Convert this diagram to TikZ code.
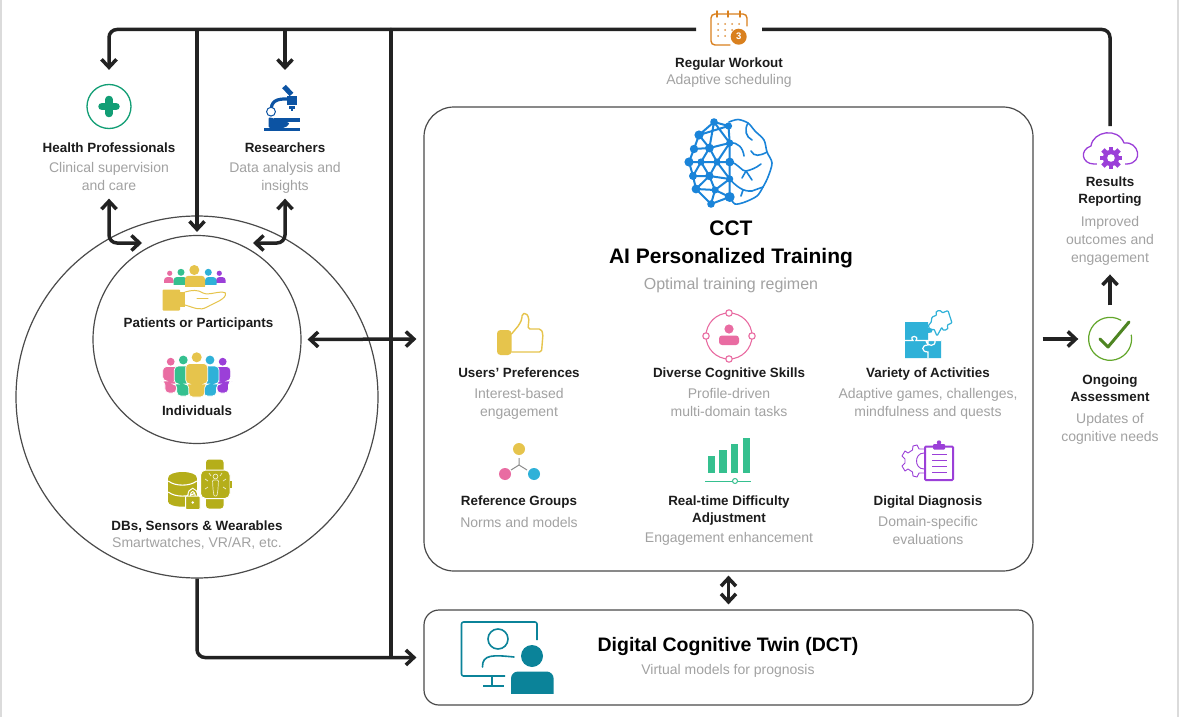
\documentclass[tikz,border=0pt]{standalone}
\usepackage{fontspec}
\setmainfont{Liberation Sans}
\usetikzlibrary{positioning,arrows.meta}

\definecolor{inkline}{HTML}{222222}
\definecolor{rimline}{HTML}{4A4A4A}
\definecolor{titlegray}{HTML}{1C1C1C}
\definecolor{notegray}{HTML}{A2A2A2}
\definecolor{crowdpink}{HTML}{E96CA2}
\definecolor{crowdgreen}{HTML}{35C08F}
\definecolor{crowdyellow}{HTML}{E6C44C}
\definecolor{crowdblue}{HTML}{2FB1D8}
\definecolor{crowdpurple}{HTML}{9B3FD8}
\definecolor{plusgreen}{HTML}{129E75}
\definecolor{scopeblue}{HTML}{0C53A3}
\definecolor{watcholive}{HTML}{B5AE1A}
\definecolor{brainblue}{HTML}{1A84D9}
\definecolor{twinteal}{HTML}{0B8399}
\definecolor{calorange}{HTML}{D9801E}
\definecolor{checkgreen}{HTML}{62A62A}

\tikzset{
  title/.style={anchor=north, inner sep=0pt, align=center, text=titlegray,
    font=\fontsize{13.4}{17}\selectfont\bfseries,
    execute at begin node=\strut, execute at end node=\strut},
  note/.style={inner sep=0pt, align=center, text=notegray,
    font=\fontsize{14}{18}\selectfont,
    execute at begin node=\strut, execute at end node=\strut},
  panel/.style={rectangle, draw=rimline, line width=1.2pt, fill=white, inner sep=0pt},
  ring/.style={circle, draw=rimline, line width=1.2pt, inner sep=0pt},
  iconbox/.style={inner sep=0pt, outer sep=0pt},
  link/.style={draw=inkline, line width=3.5pt, rounded corners=8pt},
  onetip/.style={link, -{Straight Barb[length=8pt,width=15pt]}},
  twotips/.style={link, {Straight Barb[length=8pt,width=15pt]}-{Straight Barb[length=8pt,width=15pt]}},
  thin icon/.style={line width=1.4pt, line cap=round, line join=round},
}

\begin{document}
\begin{tikzpicture}[x=1pt, y=-1pt]
\useasboundingbox (0,0) rectangle (1179,717);

% Page
\fill[white] (0,0) rectangle (1179,717);
\fill[black!14] (0,0) rectangle (1.6,717);
\fill[black!14] (1177.4,0) rectangle (1179,717);

% Circles
\node[ring, minimum size=362pt] (outer) at (197,397) {};
\node[ring, minimum size=208pt] (inner) at (197,339.5) {};

% Panels
\node[panel, rounded corners=30pt, minimum width=609pt, minimum height=464pt] (cct) at (728.5,339) {};
\node[panel, rounded corners=15pt, minimum width=609pt, minimum height=95pt] (dct) at (728.5,657.5) {};

% Regular Workout
\node[iconbox, minimum width=66pt, minimum height=36pt] (workouticon) at (729,29.5) {};
\node[title] (workouttitle) at (729,55) {Regular Workout};
\node[note, below=-0.7pt of workouttitle] (workoutnote) {Adaptive scheduling};
\draw[calorange, thin icon, rounded corners=4pt] (730,45) -- (711,45) -- (711,14) -- (747,14) -- (747,26);
\foreach \rx in {717,728,740} \draw[calorange, thin icon] (\rx,11) -- (\rx,17);
\foreach \dx/\dy in {718/24,725/24,732/24,739/24,718/30,725/30,732/30,718/36,725/36}
  \fill[calorange!85] (\dx,\dy) circle[radius=1];
\node[circle, fill=calorange, text=white, inner sep=0pt, minimum size=16pt,
      font=\fontsize{9.5}{10}\selectfont\bfseries] (workoutbadge) at (738.7,36.7) {3};

% Health Professionals
\node[circle, draw=plusgreen, line width=1.3pt, inner sep=0pt, minimum size=44pt] (hpicon) at (109,106.5) {};
\draw[plusgreen, line width=7.5pt, line cap=round] (102,106.5) -- (116,106.5) (109,99.5) -- (109,113.5);
\node[title] (hptitle) at (109,140) {Health Professionals};
\node[note, below=4.3pt of hptitle] (hpnote) {Clinical supervision\\and care};

% Researchers
\node[iconbox, minimum width=38pt, minimum height=48pt] (scopeicon) at (285,107) {};
\fill[scopeblue] (263.5,128) rectangle (300,131);
\fill[scopeblue, rounded corners=2pt] (268.5,117) -- (290,123) -- (285,128) -- (268.5,128) -- cycle;
\fill[scopeblue] (274,118) rectangle (300,121.5);
\draw[scopeblue, line width=3.2pt] (271.5,112) .. controls (270,101) and (277,98.5) .. (288,99);
\fill[scopeblue] (286.7,96.5) rectangle (297.3,105);
\fill[scopeblue] (288.5,106) rectangle (295,109);
\fill[scopeblue] (290.5,109.5) rectangle (293,111);
\draw[scopeblue, line width=5pt] (284,86.5) -- (291.5,94.5);
\draw[scopeblue, fill=white, line width=1pt] (271,111.7) circle[radius=4.4];
\node[title] (scopetitle) at (285,140) {Researchers};
\node[note, below=4.3pt of scopetitle] (scopenote) {Data analysis and\\insights};

% Patients or Participants
\foreach \hx/\hy/\hr/\bl/\br/\bt/\bb/\hue in {
  169.7/273.3/2.6/164/173.5/277/283/crowdpink,
  219.3/273.3/2.6/216/225.7/277/283/crowdpurple,
  181/272.3/3.5/173.5/187/277/285/crowdgreen,
  208.3/272.3/3.5/205/216.5/277/285/crowdblue,
  194.3/270/5/185/205/275.8/286.7/crowdyellow}{
  \fill[\hue] (\hx,\hy) circle[radius=\hr];
  \fill[\hue, rounded corners=3.4pt] (\bl,\bb+3) -- (\bl,\bt) -- (\br,\bt) -- (\br,\bb+3) -- cycle;
  \fill[white] (\bl-1,\bb) rectangle (\br+1,\bb+3.5);
}
\fill[crowdyellow, rounded corners=1pt] (162.5,289.5) rectangle (180,310.5);
\fill[crowdyellow] (180,292) rectangle (185,307);
\draw[crowdyellow, thin icon, line width=1pt] (185,292) .. controls (192,290) and (198,289.5) .. (203,293)
  .. controls (209,296) and (220,290) .. (225.5,293) .. controls (227,299) and (214,303) .. (207,307)
  .. controls (200,311) and (195,308) .. (185,305);
\draw[crowdyellow, thin icon, line width=1pt] (197,298) -- (208,298);
\node[title] (patientstitle) at (198.5,315) {Patients or Participants};

% Individuals
\foreach \hx/\hy/\hr/\bw/\bt/\bm/\bb/\hue in {
  170.7/361.7/3.9/8/366.5/381/393/crowdpink,
  222.7/361.7/3.9/8/366.5/381/393/crowdpurple,
  183.3/360/4.4/9/366/384/396/crowdgreen,
  210/360/4.4/9/366/384/396/crowdblue,
  196.7/357.3/5/11/363.5/384/397/crowdyellow}{
  \fill[\hue] (\hx,\hy) circle[radius=\hr];
  \filldraw[fill=\hue, draw=white, line width=0.7pt, rounded corners=4pt]
    (\hx-\bw,\bt) -- (\hx+\bw,\bt) -- (\hx+\bw,\bm) -- (\hx+0.72*\bw,\bm) -- (\hx+0.72*\bw,\bb)
    -- (\hx-0.72*\bw,\bb) -- (\hx-0.72*\bw,\bm) -- (\hx-\bw,\bm) -- cycle;
}
\node[title] (crowdtitle) at (197,403) {Individuals};

% DBs, Sensors and Wearables
\fill[watcholive] (182.5,477.5) ellipse[x radius=14.2, y radius=5.5];
\fill[watcholive] (168.3,477.5) rectangle (196.7,502);
\fill[watcholive] (182.5,502) ellipse[x radius=14.2, y radius=4.7];
\draw[white, line width=1.1pt] (168.3,481) .. controls (175,486.5) and (190,486.5) .. (196.7,481)
  (168.3,492) .. controls (175,497.5) and (190,497.5) .. (196.7,492);
\draw[white, line width=3.6pt] (189,497) .. controls (189,487.5) and (196.5,487.5) .. (196.5,497);
\draw[watcholive, line width=1.4pt] (189,497) .. controls (189,487.5) and (196.5,487.5) .. (196.5,497);
\filldraw[fill=watcholive, draw=white, line width=1pt, rounded corners=1pt] (185.5,496) rectangle (200,509.5);
\fill[white] (192.8,502.5) circle[radius=1.4];
\fill[watcholive, rounded corners=3pt] (206,459.5) rectangle (223.5,508.5);
\filldraw[fill=watcholive, draw=white, line width=1pt, rounded corners=5pt] (200.5,470) rectangle (230,498.5);
\fill[watcholive] (230,481) rectangle (232,488);
\draw[white!75!watcholive, line width=0.7pt, rounded corners=1pt]
  (212.5,480) -- (218.5,480) -- (218,489) -- (217,496) -- (214,496) -- (213,489) -- cycle;
\draw[white!75!watcholive, line width=0.7pt] (215.5,476.5) circle[radius=2.4];
\foreach \ax/\ay/\bx/\by in {205/479/208/481, 205/489/208/487, 226/479/223/481, 226/489/223/487, 209/473/211/476, 222/473/220/476}
  \draw[white!75!watcholive, line width=0.7pt] (\ax,\ay) -- (\bx,\by);
\node[title] (dbtitle) at (197,518) {DBs, Sensors \& Wearables};
\node[note, below=-0.7pt of dbtitle] (dbnote) {Smartwatches, VR/AR, etc.};

% Brain
\draw[brainblue, line width=2pt, line cap=round, line join=round] (714,122) -- (728.5,126) -- (699,135) -- (714,122) -- (729.7,143) -- (709.4,148) -- (699,135)
  (699,135) -- (694,149) -- (709.4,148) -- (717,162) -- (729.7,143)
  (694,149) -- (689,162) -- (701,162) -- (709.4,148)
  (701,162) -- (717,162) -- (729.7,162) -- (729.7,143)
  (689,162) -- (693,176) -- (701,162) -- (709.4,176) -- (717,162) -- (729.7,179) -- (729.7,162)
  (693,176) -- (709.4,176) -- (729.7,179) -- (715,190) -- (709.4,176) -- (696,189) -- (693,176)
  (696,189) -- (715,190) -- (729.7,197) -- (711,204) -- (696,189)
  (715,190) -- (711,204) (729.7,179) -- (729.7,197) (714,122) -- (709.4,148) (728.5,126) -- (729.7,143);
\foreach \nx/\ny/\nr in {714/122/3.8, 728.5/126/3.6, 699/135/4.6, 729.7/143/3.6, 694/149/4.2, 709.4/148/4.4, 689/162/4.6,
  701/162/3.6, 717/162/3.6, 729.7/162/4.4, 693/176/4, 709.4/176/4.2, 729.7/179/3.6, 696/189/4.4, 715/190/3.6, 729.7/197/5, 711/204/3.8}
  \fill[brainblue] (\nx,\ny) circle[radius=\nr];
\draw[brainblue, line width=1.6pt, line cap=round] plot[smooth] coordinates {(729,122) (738,119.5) (748,123) (755,131) (764,140) (767,152) (772,163) (768,177) (763,187) (757,196) (745,202) (735,204) (729.7,197)};
\draw[brainblue, line width=1.6pt, line cap=round] (748,123) .. controls (744,130) and (746,137) .. (752,140)
  (730,143) .. controls (738,142) and (743,148) .. (744,156)
  (767,152) .. controls (760,156) and (754,157) .. (751,151)
  (730,162) .. controls (738,163) and (742,172) .. (746,171) .. controls (751,170) and (756,168) .. (761,164)
  (746,171) -- (742,178) (746,171) -- (752,180)
  (729.7,179) .. controls (736,186) and (743,192) .. (752,191) (752,191) -- (763,187)
  (743,190) -- (741,196);

% CCT title
\node[title, font=\fontsize{21}{28}\selectfont\bfseries, text=black] (ccttitle) at (731,221) {CCT\\AI Personalized Training};
\node[note, font=\fontsize{16}{20}\selectfont, below=3pt of ccttitle] (cctnote) {Optimal training regimen};

% Users' Preferences
\fill[crowdyellow, rounded corners=3.5pt] (497,330) rectangle (511.5,355);
\draw[crowdyellow, thin icon, rounded corners=1.8pt] (511.5,334) -- (519,325) -- (522,319) -- (522,314) -- (526,313) -- (529,318) -- (528,329) -- (541,329) -- (543,334)
  -- (541.5,352) -- (511.5,352);
\node[title] (userstitle) at (519,365) {Users' Preferences};
\node[note, below=5.3pt of userstitle] (usersnote) {Interest-based\\engagement};

% Diverse Cognitive Skills
\draw[crowdpink, thin icon, line width=1.1pt] (729,336) circle[radius=23];
\foreach \cx/\cy in {729/313, 729/359, 706/336, 752/336}
  \filldraw[draw=crowdpink, fill=white, line width=1.1pt] (\cx,\cy) circle[radius=3.2];
\fill[crowdpink] (729,329) circle[radius=4.6];
\fill[crowdpink, rounded corners=3pt] (719,345) -- (719,335.5) -- (739,335.5) -- (739,345) -- cycle;
\node[title] (skillstitle) at (729,365) {Diverse Cognitive Skills};
\node[note, below=5.3pt of skillstitle] (skillsnote) {Profile-driven\\multi-domain tasks};

% Variety of Activities
\fill[crowdblue] (905,322) -- (928,322) -- (928,328) .. controls (934,327) and (934,334) .. (928,333) -- (928,340) -- (941,340) -- (941,358) -- (905,358) -- cycle;
\draw[white, line width=1.2pt] (905,340.5) -- (913,340.5) .. controls (908,335) and (920,335) .. (916,340.5) -- (941,340.5)
  (928,340.5) -- (928,345) .. controls (921,345) and (921,352) .. (928,352) -- (928,358)
  (926,340.5) .. controls (927,347) and (936,347) .. (935,340.5);
\draw[crowdblue, thin icon, line width=1.2pt, rounded corners=1pt] (932,317) -- (937,315) .. controls (934,311) and (941,309) .. (942,313) -- (948,310.5) -- (952,323)
  -- (947,325) .. controls (950,330) and (942,332) .. (942,327) -- (937,336) -- (934,329) .. controls (929,331) and (927,325) .. (931,323) -- cycle;
\node[title] (varietytitle) at (928,365) {Variety of Activities};
\node[note, below=5.3pt of varietytitle] (varietynote) {Adaptive games, challenges,\\mindfulness and quests};

% Reference Groups
\draw[black!45, line width=1pt] (519,458) -- (519,465) -- (511,470) (519,465) -- (527,470);
\fill[crowdyellow] (519,449) circle[radius=6];
\fill[crowdpink] (505,474) circle[radius=6];
\fill[crowdblue] (534,474) circle[radius=6];
\node[title] (refstitle) at (519,493) {Reference Groups};
\node[note, below=4.3pt of refstitle] (refsnote) {Norms and models};

% Real-time Difficulty Adjustment
\foreach \bl/\br/\bt in {708/715/456, 719/726.5/449.5, 731/738/444, 742.5/749.5/437.5}
  \fill[crowdgreen] (\bl,\bt) rectangle (\br,472.7);
\draw[crowdgreen, line width=1pt] (705,481) -- (751,481);
\filldraw[draw=crowdgreen, fill=white, line width=1pt] (735,481) circle[radius=2.5];
\node[title] (realtimetitle) at (729,496) {Real-time Difficulty\\Adjustment};
\node[note, below=1.3pt of realtimetitle] (realtimenote) {Engagement enhancement};

% Digital Diagnosis
\draw[crowdpurple, line width=0.9pt, line join=round] (924,449) -- (919,449) -- (917,445) -- (913,446) -- (912.5,450) -- (908,453) -- (905,451) -- (902,456) -- (905,459) -- (905,463) -- (902,466) -- (905,471) -- (908,469) -- (912.5,472) -- (913,476) -- (917,477) -- (919,473) -- (924,473);
\draw[crowdpurple, line width=0.9pt] (924,453) .. controls (914,453) and (914,469) .. (924,469);
\filldraw[draw=crowdpurple, fill=white, line width=2pt, rounded corners=1pt] (925,446.5) rectangle (953,480);
\fill[crowdpurple, rounded corners=1pt] (933,444) rectangle (945,449.5);
\fill[crowdpurple] (939,442.5) circle[radius=2.2];
\foreach \ly in {454,460,466,472} \draw[crowdpurple, line width=1pt] (932,\ly) -- (947,\ly);
\node[title] (diagtitle) at (928,493) {Digital Diagnosis};
\node[note, below=6pt of diagtitle] (diagnote) {Domain-specific\\evaluations};

% Digital Cognitive Twin
\draw[twinteal, line width=1.6pt, line join=round, rounded corners=2pt] (537,640) -- (537,622) -- (461.5,622) -- (461.5,676) -- (505,676);
\draw[twinteal, line width=1.6pt] (492,676) -- (492,686) (483,686) -- (504,686);
\draw[twinteal, line width=1.6pt] (498,639) circle[radius=10];
\draw[twinteal, line width=1.6pt, line cap=round] (482.5,667) .. controls (482,654) and (494,655) .. (514,657);
\fill[twinteal] (532,656) circle[radius=11];
\fill[twinteal, rounded corners=7pt] (511,702) -- (511,671.5) -- (553.6,671.5) -- (553.6,702) -- cycle;
\fill[white] (510,694) rectangle (555,703);
\node[title, font=\fontsize{19.5}{26}\selectfont\bfseries, text=black] (dcttitle) at (728,633) {Digital Cognitive Twin (DCT)};
\node[note, below=2.6pt of dcttitle] (dctnote) {Virtual models for prognosis};

% Results Reporting
\node[iconbox, minimum width=56pt, minimum height=36pt] (cloudicon) at (1110,151) {};
\draw[crowdpurple, line width=1.3pt, line join=round] (1094,164) .. controls (1082,164) and (1079,150) .. (1091,146)
  .. controls (1093,131) and (1118,127) .. (1124,143) .. controls (1139,141) and (1144,163) .. (1127,164) -- (1094,164);
\fill[white] (1097,151) rectangle (1125,166);
\foreach \ang in {0,45,...,315}
  \fill[crowdpurple, rotate around={\ang:(1111,158)}] (1108.6,146.6) rectangle (1113.4,152);
\fill[crowdpurple] (1111,158) circle[radius=8.2];
\fill[white] (1111,158) circle[radius=3.8];
\node[title] (resultstitle) at (1110,177) {Results\\Reporting};
\node[note, below=7.3pt of resultstitle] (resultsnote) {Improved\\outcomes and\\engagement};

% Ongoing Assessment
\node[circle, inner sep=0pt, minimum size=43pt] (checkicon) at (1110,339) {};
\draw[checkgreen, line width=1.2pt, line cap=round] (checkicon.60) arc[start angle=-60, end angle=-370, radius=21.5];
\draw[checkgreen!80!black, line width=3pt, line cap=round, line join=round] (1100,339) -- (1108,347) -- (1129,322);
\node[title] (ongoingtitle) at (1110,375) {Ongoing\\Assessment};
\node[note, below=6.3pt of ongoingtitle] (ongoingnote) {Updates of\\cognitive needs};

% Arrows
\coordinate (joint) at (391,656);
\coordinate (hpend) at (142,243);
\coordinate (scopeend) at (253,243);
\draw[onetip, shorten >=14pt] (workouticon.west) -| (hpicon.north);
\draw[onetip, shorten >=3pt] (inner.north |- workouticon.west) -- (inner.north);
\draw[onetip, shorten >=13pt] (scopeicon.north |- workouticon.west) -- (scopeicon.north);
\draw[link, line cap=round] (joint |- workouticon.west) -- (joint);
\draw[link, shorten >=7pt] (workouticon.east) -| (cloudicon.north);
\draw[twotips, shorten <=3pt] (hpnote.south) |- (hpend);
\draw[twotips, shorten <=3pt] (scopenote.south) |- (scopeend);
\draw[twotips, shorten <=6pt, shorten >=7pt] (inner.east) -- (cct.west);
\draw[onetip, shorten >=7pt] (outer.south) |- (dct.west);
\draw[twotips, shorten <=4pt, shorten >=5pt] (cct.south) -- (dct.north);
\draw[onetip, shorten <=9pt, shorten >=10pt] (cct.east) -- (checkicon.west);
\draw[onetip, shorten <=12pt, shorten >=6pt] (checkicon.north) -- (resultsnote.south);

\end{tikzpicture}
\end{document}
